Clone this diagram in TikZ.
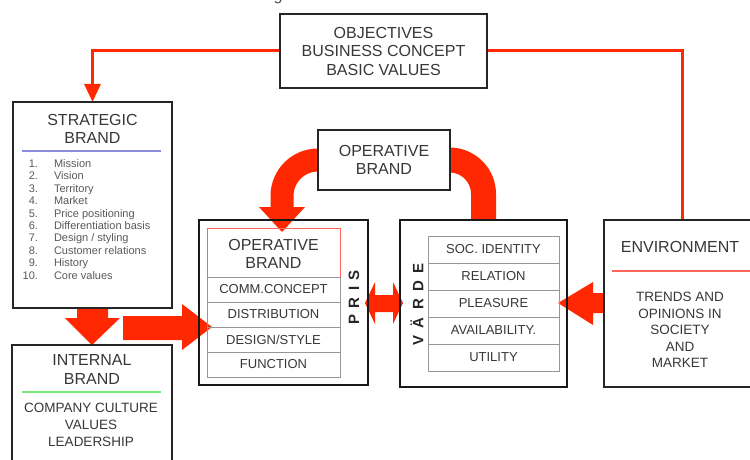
\documentclass[tikz,border=0pt]{standalone}
\usepackage{fontspec}
\setmainfont{Liberation Sans}
\usetikzlibrary{arrows.meta,calc}
\definecolor{brandred}{RGB}{255,40,0}
\definecolor{inkgray}{RGB}{55,55,55}
\definecolor{rowgray}{RGB}{150,150,150}
\definecolor{lavender}{RGB}{140,140,220}
\definecolor{mint}{RGB}{120,230,120}
\definecolor{softred}{RGB}{255,100,90}
\pgfdeclarelayer{bg}
\pgfsetlayers{bg,main}
\begin{document}
\begin{tikzpicture}[x=1pt,y=-1pt,
  every node/.style={inner sep=0pt, outer sep=0pt, text=inkgray},
  frame/.style={draw=black!85, line width=2pt, anchor=north west},
  heavyframe/.style={draw=black!90, line width=2.6pt, anchor=north west},
  title/.style={font=\fontsize{16}{18.5}\selectfont, align=center},
  body/.style={font=\fontsize{13.5}{17}\selectfont, align=center},
  cell/.style={draw=rowgray, line width=0.9pt, anchor=north west,
    font=\fontsize{13}{15}\selectfont},
  listtxt/.style={font=\fontsize{11}{12}\selectfont, text=black!65},
  sidelabel/.style={rotate=90, font=\fontsize{15}{15}\bfseries\selectfont, text=black!85},
  thinred/.style={draw=brandred, line width=3pt},
  band/.style={draw=brandred, line cap=butt}
]
\useasboundingbox (0,0) rectangle (750,460);

% tail of the heading above the chart
\node[font=\fontsize{16}{16}\selectfont, anchor=base, text=black!70] (headtail) at (278,1) {g};

% ---- boxes ----
\node[frame, minimum width=207pt, minimum height=74pt] (obj) at (280,14) {};
\node[title] (objtxt) at (obj.center) {OBJECTIVES\\BUSINESS CONCEPT\\BASIC VALUES};

\node[frame, minimum width=159pt, minimum height=206pt] (strat) at (13,102) {};
\node[title] (strattitle) at (92.5,129) {STRATEGIC\\BRAND};
\draw[lavender, line width=1.5pt] (22,151) -- (161,151);
\foreach \num/\item [count=\i] in {1./Mission, 2./Vision, 3./Territory, 4./Market,
    5./Price positioning, 6./Differentiation basis, 7./{Design / styling},
    8./Customer relations, 9./History, 10./Core values}{
  \node[listtxt, anchor=base east] (num\i) at (38,{167.5+(\i-1)*12.4}) {\num};
  \node[listtxt, anchor=base west] (item\i) at (54,{167.5+(\i-1)*12.4}) {\item};
}

\node[frame, minimum width=160pt, minimum height=117pt] (intl) at (12,345) {};
\node[title] (intltitle) at (92,369.5) {INTERNAL\\BRAND};
\draw[mint, line width=2pt] (22,392) -- (161,392);
\node[body] (intlbody) at (91,425) {COMPANY CULTURE\\VALUES\\LEADERSHIP};

\node[heavyframe, minimum width=169pt, minimum height=165pt] (opbig) at (199,220) {};
\node[draw=softred, line width=1pt, anchor=north west, minimum width=133pt,
  minimum height=49pt] (opin) at (207,228) {};
\node[title] (opintxt) at (273.5,254) {OPERATIVE\\BRAND};
\node[cell, minimum width=133pt, minimum height=25pt] (op1) at (207,277) {COMM.CONCEPT};
\node[cell, minimum width=133pt, minimum height=25pt] (op2) at (207,302) {DISTRIBUTION};
\node[cell, minimum width=133pt, minimum height=25pt] (op3) at (207,327) {DESIGN/STYLE};
\node[cell, minimum width=133pt, minimum height=25pt] (op4) at (207,352) {FUNCTION};
\node[sidelabel] (pris) at (354,297.5) {P\hspace{6.5pt}R\hspace{6.5pt}I\hspace{6.5pt}S};

\node[frame, fill=white, minimum width=132pt, minimum height=60pt] (opsmall) at (318,130) {};
\node[title] (opsmalltxt) at (opsmall.center) {OPERATIVE\\BRAND};

\node[heavyframe, minimum width=167pt, minimum height=167pt] (varde) at (400,220) {};
\node[cell, minimum width=131pt, minimum height=27pt] (v1) at (428,236) {SOC. IDENTITY};
\node[cell, minimum width=131pt, minimum height=27pt] (v2) at (428,263) {RELATION};
\node[cell, minimum width=131pt, minimum height=27pt] (v3) at (428,290) {PLEASURE};
\node[cell, minimum width=131pt, minimum height=27pt] (v4) at (428,317) {AVAILABILITY.};
\node[cell, minimum width=131pt, minimum height=27pt] (v5) at (428,344) {UTILITY};
\node[sidelabel] (vardelabel) at (417,304.5) {V\hspace{7.5pt}Ä\hspace{7.5pt}R\hspace{7.5pt}D\hspace{7.5pt}E};

\node[frame, minimum width=156pt, minimum height=167pt] (env) at (604,220) {};
\node[title] (envtitle) at (680,247) {ENVIRONMENT};
\draw[softred, line width=1.5pt] (612,271) -- (760,271);
\node[body, font=\fontsize{13.5}{16.5}\selectfont] (envbody) at (680,330)
  {TRENDS AND\\OPINIONS IN\\SOCIETY\\AND\\MARKET};

% ---- connectors ----
\coordinate (optip) at (212,327);
\coordinate (curvetip) at (282,232);
\coordinate (pleasuretip) at (558,303);

\begin{pgfonlayer}{bg}
  % thin lines from the objectives
  \draw[thinred, -{Triangle[width=16pt,length=18pt]}] (obj.west) -| (strat.north);
  \draw[thinred] (obj.east) -| (env.north);

  % strategic brand down into internal brand
  \fill[brandred] (77,308) -- (108,308) -- (108,318) -- (120,318) -- (intl.north)
    -- (65,318) -- (77,318) -- cycle;
  % into the operative table
  \fill[brandred] (123,316) -- (182,316) -- (182,304) -- (optip) -- (182,350)
    -- (182,340) -- (123,340) -- cycle;
  % two-way arrow between PRIS and VÄRDE
  \fill[brandred] (365,303) -- (375,282) -- (375,295) -- (393,295) -- (393,282)
    -- (403,303) -- (393,324) -- (393,312) -- (375,312) -- (375,324) -- cycle;
  % environment into PLEASURE
  \fill[brandred] (env.west |- 0,293) -- (593,293) -- (593,282) -- (pleasuretip)
    -- (593,325) -- (593,313) -- (env.west |- 0,313) -- cycle;

  % curved bands from the small operative brand box
  \draw[band, line width=23pt, rounded corners=36pt]
    ($(opsmall.west)+(6,0)$) -| (282,209);
  \fill[brandred] (259,207) -- (305,207) -- (curvetip) -- cycle;
  \draw[band, line width=25pt, rounded corners=34pt]
    ($(opsmall.east)+(-6,0)$) -| (varde.north);
\end{pgfonlayer}
\end{tikzpicture}
\end{document}
